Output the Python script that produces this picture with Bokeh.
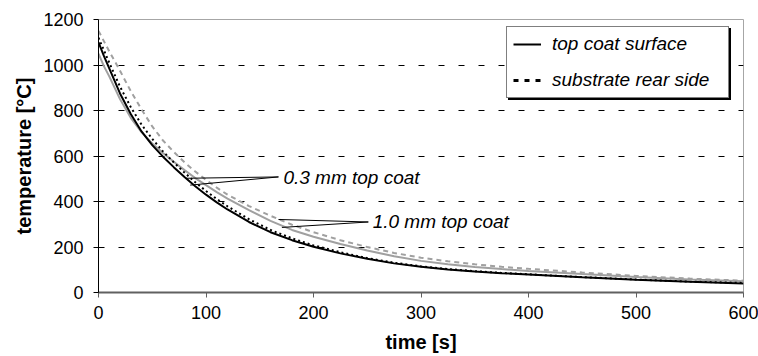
from bokeh.plotting import figure
from bokeh.models import Range1d, FixedTicker, Legend, LegendItem, ColumnDataSource
from bokeh.core.properties import value
from bokeh.embed import file_html
from bokeh.resources import INLINE

# cooling curves: time [s] vs temperature [°C]
time_s = [0, 5, 10, 20, 30, 40, 50, 60, 70, 80, 90, 100, 110, 120, 140, 160,
          180, 200, 225, 250, 275, 300, 325, 350, 375, 400, 450, 500, 550, 600]

# 0.3 mm top coat
surface_03 = [1100, 1040, 985, 875, 785, 708, 648, 597, 551, 508, 467, 430, 396, 365,
              310, 265, 230, 201, 172, 148, 128, 113, 101, 92, 85, 79, 67, 56, 47, 40]
rear_03 = [1120, 1065, 1010, 905, 815, 738, 675, 620, 572, 527, 485, 446, 411, 379,
           322, 275, 238, 207, 177, 151, 131, 115, 103, 94, 86, 80, 68, 57, 48, 42]

# 1.0 mm top coat
surface_10 = [1050, 995, 950, 850, 768, 705, 655, 613, 575, 538, 503, 472, 441, 413,
              362, 315, 275, 245, 213, 185, 159, 139, 124, 112, 103, 95, 81, 68, 57, 49]
rear_10 = [1150, 1105, 1060, 975, 885, 805, 730, 668, 618, 572, 532, 495, 461, 430,
           380, 337, 298, 265, 230, 200, 174, 153, 137, 124, 113, 104, 88, 73, 61, 52]

x_ticks = [0, 100, 200, 300, 400, 500, 600]
y_ticks = [0, 200, 400, 600, 800, 1000, 1200]
grid_levels = [200, 400, 600, 800, 1000]

legend_labels = ["top coat surface", "substrate rear side"]

# callout labels and their leader lines (time, temperature)
callout_text = ["0.3 mm top coat", "1.0 mm top coat"]
callout_x = [172, 255]
callout_y = [507, 310]
leader_x0 = [80.7, 85.3, 167.4, 170.6]
leader_y0 = [502, 472, 321, 286]
leader_x1 = [167.4, 167.4, 251.0, 251.0]
leader_y1 = [508, 508, 310, 310]

FONT = "Liberation Sans"

p = figure(width=758, height=356, output_backend="svg", toolbar_location=None,
           x_range=Range1d(0, 600), y_range=Range1d(0, 1200),
           min_border_left=98, min_border_right=15, min_border_top=19,
           min_border_bottom=64)

p.background_fill_color = "white"
p.border_fill_color = "white"
p.outline_line_color = "#a6a6a6"
p.outline_line_width = 1

# grid
p.xgrid.visible = False
p.ygrid.ticker = FixedTicker(ticks=grid_levels)
p.ygrid.grid_line_color = "black"
p.ygrid.grid_line_dash = "6 14"
p.ygrid.grid_line_width = 1

# axes
for ax in (p.xaxis[0], p.yaxis[0]):
    ax.major_label_text_font = FONT
    ax.major_label_text_font_size = "18px"
    ax.major_label_text_color = "black"
    ax.axis_label_text_font = FONT
    ax.axis_label_text_font_size = "20px"
    ax.axis_label_text_font_style = "bold"
    ax.axis_label_text_color = "black"
    ax.major_tick_in = 0
    ax.major_tick_out = 5
    ax.minor_tick_in = 0
    ax.minor_tick_out = 0

p.xaxis.ticker = FixedTicker(ticks=x_ticks)
p.yaxis.ticker = FixedTicker(ticks=y_ticks)
p.xaxis.axis_label = "time [s]"
p.yaxis.axis_label = "temperature [°C]"
p.xaxis.axis_line_color = "#606060"
p.xaxis.axis_line_width = 2
p.xaxis.major_tick_line_color = "#606060"
p.yaxis.axis_line_color = "black"
p.yaxis.major_tick_line_color = "black"
p.xaxis.major_label_standoff = 8
p.xaxis.axis_label_standoff = 9
p.yaxis.major_label_standoff = 10
p.yaxis.axis_label_standoff = 5

src = ColumnDataSource(dict(t=time_s, s03=surface_03, r03=rear_03,
                            s10=surface_10, r10=rear_10))

# 1.0 mm curves (grey)
p.line("t", "r10", source=src, line_color="#a0a0a0", line_width=2, line_dash="5 4")
p.line("t", "s10", source=src, line_color="#a0a0a0", line_width=2)
# 0.3 mm curves (black)
p.line("t", "s03", source=src, line_color="black", line_width=2)
p.line("t", "r03", source=src, line_color="black", line_width=2, line_dash="2 3")

# leader lines and callouts
p.segment(x0=leader_x0, y0=leader_y0, x1=leader_x1, y1=leader_y1,
          line_color="black", line_width=1)
p.text(x=callout_x, y=callout_y, text=callout_text, text_font=value(FONT),
       text_font_size="19px", text_font_style="italic", text_align="left",
       text_baseline="middle", text_color="black")

# legend samples (renderers that draw nothing in the plot area)
nan = float("nan")
leg_solid = p.line(x=[nan], y=[nan], line_color="black", line_width=2)
leg_dash = p.line(x=[nan], y=[nan], line_color="black", line_width=3, line_dash="5 6")


def make_legend(labels, loc, fill):
    return Legend(
        items=[LegendItem(label=labels[0], renderers=[leg_solid]),
               LegendItem(label=labels[1], renderers=[leg_dash])],
        location=loc, orientation="vertical",
        background_fill_color=fill, background_fill_alpha=1.0,
        border_line_color="black", border_line_width=1,
        label_text_font=FONT, label_text_font_size="19px",
        label_text_font_style="italic", label_text_color="black",
        padding=6, spacing=14, label_height=22, label_width=170,
        glyph_width=28, glyph_height=22, label_standoff=11, margin=0,
    )


# drop shadow behind the legend box
shadow = make_legend(["", ""], (410, 192), "black")
main = make_legend(legend_labels, (408, 194), "white")
p.add_layout(shadow, "center")
p.add_layout(main, "center")

open("out.html", "w").write(file_html(p, INLINE))
